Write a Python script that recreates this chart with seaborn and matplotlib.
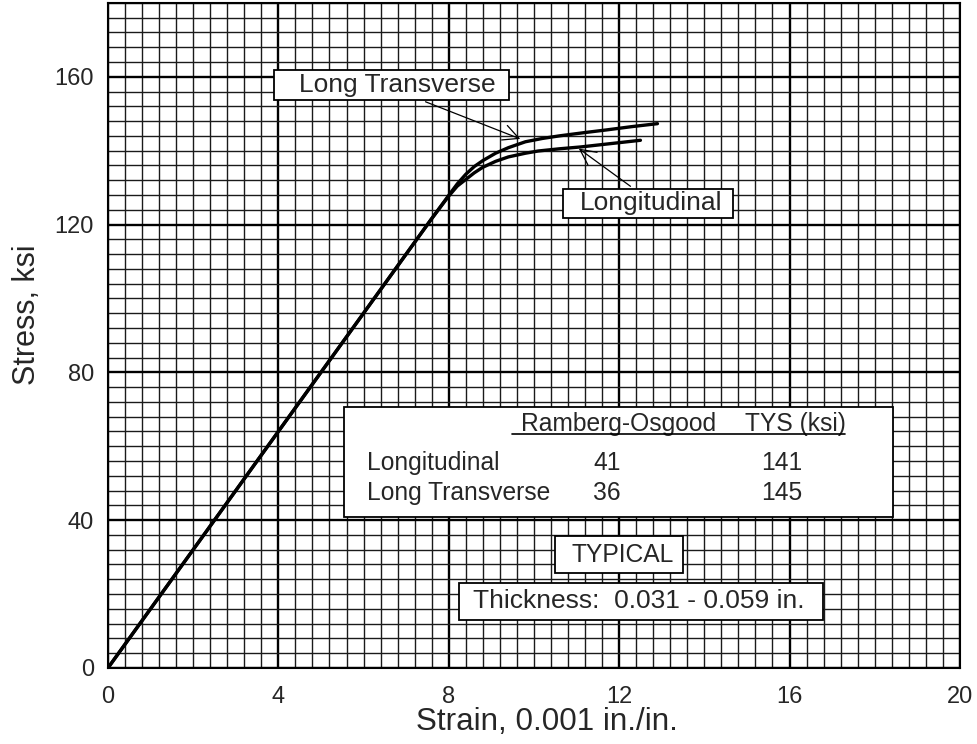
import numpy as np
import pandas as pd
import matplotlib
matplotlib.use("Agg")
import matplotlib.pyplot as plt
import seaborn as sns
from matplotlib.patches import Rectangle

# stress-strain curves (strain in 0.001 in./in., stress in ksi)
lt_strain = [0, 4.0, 7.6, 8.0, 8.2, 8.4, 8.6, 8.8, 9.1, 9.4, 9.8, 10.2, 10.6, 11.2, 11.7, 12.3, 12.9]
lt_stress = [0, 64.0, 121.6, 127.9, 131.0, 133.6, 135.7, 137.3, 139.3, 140.8, 142.4, 143.3, 144.0, 144.9, 145.6, 146.5, 147.3]
lg_strain = [0, 4.0, 7.6, 8.0, 8.2, 8.4, 8.6, 8.8, 9.1, 9.4, 9.8, 10.1, 10.6, 11.1, 11.8, 12.5]
lg_stress = [0, 64.0, 121.6, 127.7, 130.4, 132.2, 134.0, 135.5, 137.1, 138.3, 139.3, 139.9, 140.5, 141.0, 141.9, 142.8]

directions = ["Longitudinal", "Long Transverse"]
ramberg_osgood = [41, 36]
tys = [141, 145]

df = pd.concat([
    pd.DataFrame({"strain": lt_strain, "stress": lt_stress, "dir": "Long Transverse"}),
    pd.DataFrame({"strain": lg_strain, "stress": lg_stress, "dir": "Longitudinal"}),
])

sns.set_style("white")
plt.rcParams['font.family'] = ['Liberation Sans', 'DejaVu Sans']

fig = plt.figure(figsize=(9.77, 7.44), dpi=100)
ax = fig.add_axes([0.1105, 0.1022, 0.872, 0.894])

#grid paper
ax.set_xlim(0, 20)
ax.set_ylim(0, 180)
ax.set_xticks(np.arange(0, 20.1, 4))
ax.set_yticks(np.arange(0, 161, 40))
ax.set_xticks(np.arange(0, 20.01, 0.4), minor=True)
ax.set_yticks(np.arange(0, 180.1, 4), minor=True)
ax.grid(which='minor', color='0.1', lw=1.0)
ax.grid(which='major', color='black', lw=1.7)
ax.set_axisbelow(True)
ax.tick_params(which='both', length=0)
ax.tick_params(axis='x', labelsize=17, pad=13)
ax.tick_params(axis='y', labelsize=17, pad=10)
for s in ax.spines.values():
    s.set_color('black')
    s.set_linewidth(1.5)

sns.lineplot(data=df, x="strain", y="stress", units="dir", estimator=None,
             sort=False, color="black", lw=2.4, ax=ax, legend=False)

ax.set_xlabel("Strain, 0.001 in./in.", fontsize=22.6)
ax.set_ylabel("Stress, ksi", fontsize=22)
ax.xaxis.set_label_coords(0.515, -0.058)
ax.yaxis.set_label_coords(-0.077, 0.531)

def box(x0, y0, x1, y1):
    ax.add_patch(Rectangle((x0, y0), x1 - x0, y1 - y0, fc='white', ec='black',
                           lw=1.3, zorder=4))

# curve labels
box(3.897, 153.8, 9.413, 161.9)
ax.text(6.80, 157.8, "Long Transverse", ha='center', va='center', fontsize=19, zorder=5)
ax.annotate("", xy=(9.74, 142.9), xytext=(7.394, 153.5),
            arrowprops=dict(arrowstyle='->', lw=0.9, color='black', mutation_scale=28), zorder=5)
box(10.68, 121.8, 14.67, 129.7)
ax.text(12.75, 125.9, "Longitudinal", ha='center', va='center', fontsize=19, zorder=5)
ax.annotate("", xy=(11.0, 141.0), xytext=(12.32, 129.9),
            arrowprops=dict(arrowstyle='->', lw=0.9, color='black', mutation_scale=28), zorder=5)

# table
box(5.54, 40.9, 18.43, 70.7)
ax.text(11.98, 66.05, "Ramberg-Osgood", ha='center', va='center', fontsize=17.7, zorder=5)
ax.text(16.13, 66.05, "TYS (ksi)", ha='center', va='center', fontsize=17.7, zorder=5)
ax.plot([9.48, 17.30], [63.35, 63.35], color='black', lw=1.2, zorder=5)
for i, name in enumerate(directions):
    yy = 55.5 - i * 8.1
    ax.text(6.08, yy, name, ha='left', va='center', fontsize=17.7, zorder=5)
    ax.text(11.72, yy, str(ramberg_osgood[i]), ha='center', va='center', fontsize=17.7, zorder=5)
    ax.text(15.82, yy, str(tys[i]), ha='center', va='center', fontsize=17.7, zorder=5)

box(10.49, 25.7, 13.50, 35.7)
ax.text(12.09, 30.6, "TYPICAL", ha='center', va='center', fontsize=17.7, zorder=5)
box(8.24, 13.0, 16.78, 23.0)
ax.text(8.57, 18.1, "Thickness:  0.031 - 0.059 in.", ha='left', va='center', fontsize=19, zorder=5)

plt.savefig("out.png", dpi=100)
